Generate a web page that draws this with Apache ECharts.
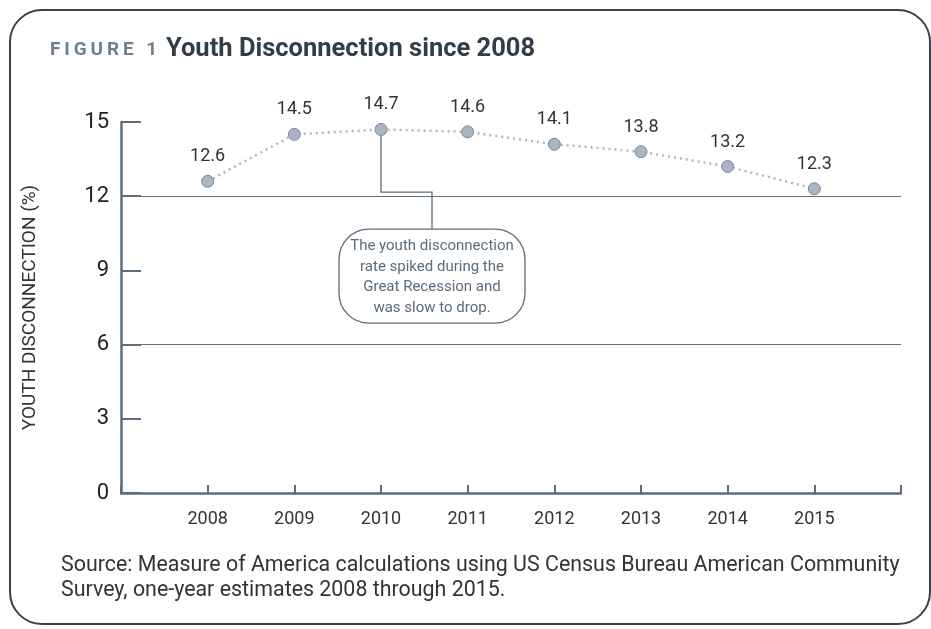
<!DOCTYPE html>
<html><head><meta charset="utf-8">
<script src="https://cdn.jsdelivr.net/npm/echarts@6/dist/echarts.min.js"></script>
<style>html,body{margin:0;padding:0;background:#fff}#c{width:931px;height:629px}</style>
</head><body><div id="c"></div>
<script>
var years = [2008, 2009, 2010, 2011, 2012, 2013, 2014, 2015];
var rates = [12.6, 14.5, 14.7, 14.6, 14.1, 13.8, 13.2, 12.3];
var yTicks = [0, 3, 6, 9, 12, 15];
var refLines = [12, 6];
var titleTag = 'F\u2009I\u2009G\u2009U\u2009R\u2009E\u2009 \u20091';
var titleText = 'Youth Disconnection since 2008';
var yName = 'YOUTH DISCONNECTION (%)';
var noteLines = ['The youth disconnection', 'rate spiked during the', 'Great Recession and', 'was slow to drop.'];
var sourceText = 'Source: Measure of America calculations using US Census Bureau American Community\nSurvey, one-year estimates 2008 through 2015.';

var font = 'Roboto, "DejaVu Sans", sans-serif';
var axisCol = '#5b6e80';
var chart = echarts.init(document.getElementById('c'), null, {renderer: 'canvas'});
var data = years.map(function (y, i) { return [y, rates[i]]; });

chart.setOption({
  animation: false,
  grid: {left: 121, right: 30, top: 122, bottom: 136, containLabel: false},
  xAxis: {
    type: 'value', min: 2007, max: 2016, interval: 1,
    axisLine: {show: true, lineStyle: {color: axisCol, width: 2.5}},
    axisTick: {show: true, inside: true, length: 8, lineStyle: {color: axisCol, width: 2}},
    splitLine: {show: false},
    axisLabel: {
      margin: 17, fontSize: 18, color: '#333', fontFamily: font,
      formatter: function (v) { return years.indexOf(v) >= 0 ? String(v) : ''; }
    }
  },
  yAxis: {
    type: 'value', min: 0, max: 15, interval: 3,
    name: yName, nameLocation: 'middle', nameGap: 81, nameRotate: 90,
    nameTextStyle: {fontSize: 19, color: '#333', fontFamily: font},
    axisLine: {show: true, lineStyle: {color: axisCol, width: 2.5}},
    axisTick: {show: true, inside: true, length: 20, lineStyle: {color: axisCol, width: 2}},
    splitLine: {show: false},
    axisLabel: {margin: 12, fontSize: 22, color: '#222', fontFamily: font}
  },
  series: [{
    type: 'line', data: data,
    symbol: 'circle', symbolSize: 12,
    lineStyle: {color: '#a9b6c4', width: 2.5, type: [2, 4]},
    itemStyle: {color: '#aab4c2', borderColor: '#7b8898', borderWidth: 1},
    label: {show: true, position: 'top', distance: 9, fontSize: 18, color: '#333', fontFamily: font,
      formatter: function (p) { return p.value[1].toFixed(1); }},
    markLine: {
      silent: true, symbol: 'none', label: {show: false},
      lineStyle: {color: '#5f6f7e', width: 1.2, type: 'solid'},
      data: refLines.map(function (v) { return {yAxis: v}; })
    },
    z: 5
  }]
});

// annotation anchored to the 2010 point
var p = chart.convertToPixel({gridIndex: 0}, [2010, 14.7]);
var y12 = chart.convertToPixel({gridIndex: 0}, [2010, 12])[1];
var bx = p[0] + 51, boxTop = y12 + 33, boxW = 186, boxH = 94;
var noteCol = '#5a6b7b';
chart.setOption({
  graphic: [
    {type: 'rect', shape: {x: 10, y: 10, width: 920, height: 614, r: 32},
      style: {fill: 'none', stroke: '#35444f', lineWidth: 2}, z: 0},
    {type: 'text', left: 50, top: 41, style: {text: titleTag, font: 'bold 19px ' + font, fill: '#6b8193'}},
    {type: 'text', left: 166, top: 37, style: {text: titleText, font: 'bold 25.5px ' + font, fill: '#313d48'}},
    {type: 'polyline', shape: {points: [[p[0], p[1] + 6], [p[0], y12 - 4], [bx, y12 - 4], [bx, boxTop]]},
      style: {stroke: noteCol, lineWidth: 1.3, fill: null}, z: 10},
    {type: 'rect', shape: {x: bx - boxW / 2, y: boxTop, width: boxW, height: boxH, r: 30},
      style: {fill: '#fff', stroke: noteCol, lineWidth: 1.3}, z: 10},
    {type: 'text', x: bx, y: boxTop + 7, z: 11,
      style: {text: noteLines.join('\n'), font: '15px ' + font, fill: noteCol, align: 'center', lineHeight: 20.5}},
    {type: 'text', left: 61, top: 553, style: {text: sourceText, font: '21.4px ' + font, fill: '#333', lineHeight: 25}}
  ]
});
</script></body></html>
